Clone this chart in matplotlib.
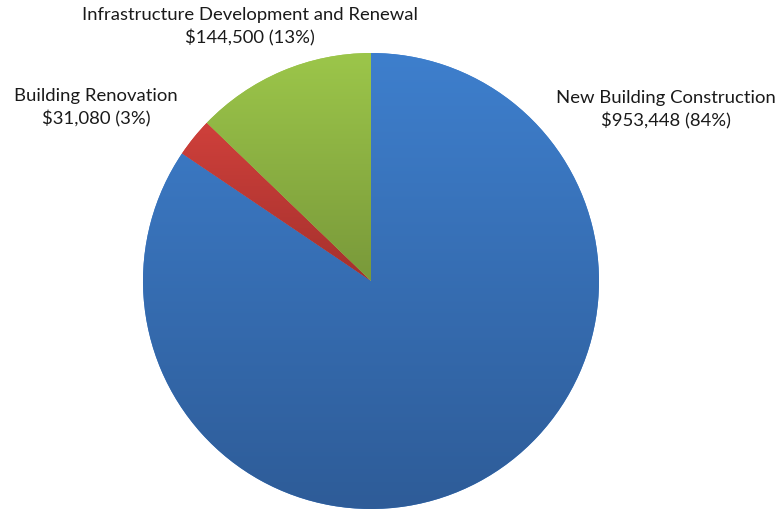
import matplotlib
matplotlib.use("Agg")
import matplotlib.pyplot as plt
import numpy as np
from matplotlib.colors import LinearSegmentedColormap

# Données du graphique
categories = ["New Building Construction", "Building Renovation",
              "Infrastructure Development and Renewal"]
valeurs = [953448, 31080, 144500]
couleurs_haut = ["#3e7fcd", "#cf403b", "#9cc64a"]
couleurs_bas = ["#2e5c98", "#a5312d", "#79993a"]

W, H = 778, 512
fig = plt.figure(figsize=(W / 100, H / 100), dpi=100)

# Position du camembert en pixels : centre (371, 281), rayon 228
cx, cy, r = 371, 281, 228
ax = fig.add_axes([(cx - r) / W, (H - cy - r) / H, 2 * r / W, 2 * r / H])

wedges, _ = ax.pie(valeurs, startangle=90, counterclock=False, radius=1,
                   colors=couleurs_haut, wedgeprops=dict(linewidth=0))

# Dégradé vertical dans chaque part (style Excel)
grad = np.linspace(0, 1, 256).reshape(-1, 1)
for w, c1, c2 in zip(wedges, couleurs_haut, couleurs_bas):
    bb = w.get_path().get_extents(w.get_patch_transform())
    cmap = LinearSegmentedColormap.from_list("g", [c1, c2])
    im = ax.imshow(grad, cmap=cmap, aspect="auto",
                   extent=[bb.x0, bb.x1, bb.y0, bb.y1], origin="upper",
                   zorder=2)
    im.set_clip_path(w)

ax.set_xlim(-1, 1)
ax.set_ylim(-1, 1)
ax.set_aspect("equal")
ax.axis("off")

# Étiquettes
pct = [v / sum(valeurs) * 100 for v in valeurs]
pos = [(666, 110), (96, 108), (250, 27)]
for nom, v, p, (x, y) in zip(categories, valeurs, pct, pos):
    txt = f"{nom}\n${v:,} ({p:.0f}%)"
    fig.text(x / W, 1 - y / H, txt, ha="center", va="center",
             fontsize=13.3, family="Lato", color="#1a1a1a", linespacing=1.45)

fig.savefig("out.png", dpi=100)
